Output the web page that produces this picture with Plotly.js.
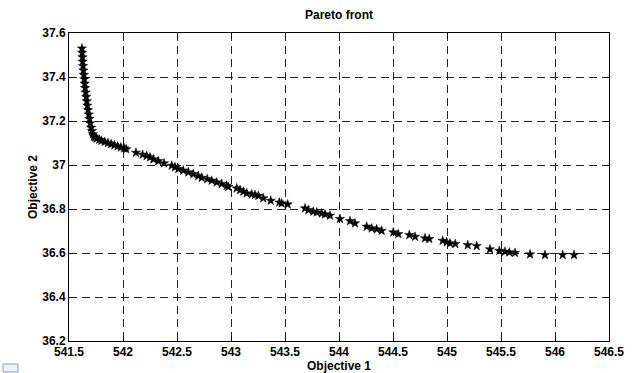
<!DOCTYPE html>
<html>
<head>
<meta charset="utf-8">
<script src="https://cdn.plot.ly/plotly-3.0.1.min.js"></script>
<style>html,body{margin:0;padding:0;background:#fff;}#chart{width:632px;height:373px;}</style>
</head>
<body>
<div id="chart"></div>
<script>
// Objective 1 values of the Pareto-front points
const objective1 = [
  541.620, 541.622, 541.625, 541.627, 541.630, 541.634, 541.638, 541.642, 541.646, 541.650,
  541.655, 541.660, 541.665, 541.671, 541.677, 541.684, 541.690, 541.697, 541.705, 541.713,
  541.722, 541.730, 541.740, 541.755, 541.780, 541.800, 541.830, 541.860, 541.890, 541.920,
  541.950, 541.980, 542.010, 542.030,
  542.120, 542.182, 542.219, 542.250, 542.281, 542.327, 542.380, 542.451, 542.481, 542.512,
  542.558, 542.605, 542.651, 542.697, 542.729, 542.781, 542.821, 542.868, 542.914, 542.960,
  542.975, 543.053, 543.083, 543.114, 543.145, 543.192, 543.222, 543.253, 543.299, 543.368,
  543.447, 543.469, 543.525,
  543.685, 543.716, 543.762, 543.794, 543.840, 543.870, 543.917, 544.009, 544.102, 544.148,
  544.256, 544.303, 544.349, 544.395, 544.503, 544.549, 544.651, 544.704, 544.796, 544.836,
  544.960, 544.997, 545.028, 545.077, 545.192, 545.275, 545.398, 545.484, 545.537, 545.577,
  545.630, 545.769, 545.907, 546.071, 546.176
];
// Objective 2 values of the Pareto-front points
const objective2 = [
  37.530, 37.510, 37.490, 37.470, 37.450, 37.430, 37.410, 37.390, 37.370, 37.350,
  37.330, 37.310, 37.290, 37.270, 37.250, 37.230, 37.210, 37.190, 37.170, 37.155,
  37.140, 37.130, 37.125, 37.120, 37.115, 37.110, 37.105, 37.100, 37.095, 37.090,
  37.085, 37.080, 37.076, 37.072,
  37.056, 37.047, 37.041, 37.035, 37.026, 37.018, 37.008, 36.997, 36.990, 36.982,
  36.975, 36.967, 36.959, 36.950, 36.942, 36.936, 36.929, 36.921, 36.914, 36.906,
  36.901, 36.894, 36.886, 36.879, 36.871, 36.867, 36.864, 36.860, 36.849, 36.838,
  36.830, 36.826, 36.821,
  36.803, 36.795, 36.788, 36.785, 36.780, 36.776, 36.770, 36.755, 36.745, 36.735,
  36.720, 36.712, 36.708, 36.701, 36.694, 36.686, 36.682, 36.674, 36.667, 36.664,
  36.656, 36.649, 36.644, 36.641, 36.636, 36.632, 36.617, 36.610, 36.606, 36.603,
  36.601, 36.594, 36.591, 36.591, 36.591
];
const xTickVals = [541.5, 542, 542.5, 543, 543.5, 544, 544.5, 545, 545.5, 546, 546.5];
const xTickText = ["541.5", "542", "542.5", "543", "543.5", "544", "544.5", "545", "545.5", "546", "546.5"];
const yTickVals = [36.2, 36.4, 36.6, 36.8, 37, 37.2, 37.4, 37.6];
const yTickText = ["36.2", "36.4", "36.6", "36.8", "37", "37.2", "37.4", "37.6"];

const font = {family: "Liberation Sans, Arial, sans-serif", size: 12, color: "#000"};

const trace = {
  x: objective1, y: objective2, type: "scatter", mode: "markers",
  marker: {symbol: "star", size: 7, color: "#000", line: {width: 0.5, color: "#000"}},
  hoverinfo: "none"
};

const axisCommon = {
  showline: true, linecolor: "#000", linewidth: 1, mirror: "ticks",
  ticks: "inside", ticklen: 5, tickcolor: "#000", tickwidth: 1,
  showgrid: true, gridcolor: "#222", gridwidth: 1, griddash: "8px,5px",
  zeroline: false, tickfont: {family: font.family, size: 12, color: "#000", weight: "bold"}
};

const layout = {
  width: 632, height: 373,
  margin: {l: 69, r: 23, t: 33, b: 32, pad: 0},
  paper_bgcolor: "#fff", plot_bgcolor: "#fff",
  showlegend: false,
  title: {text: "<b>Pareto front</b>", font: {family: font.family, size: 12, color: "#000"},
          x: 0.5, xref: "paper", y: 1 - 15 / 373, yanchor: "middle"},
  xaxis: Object.assign({}, axisCommon, {
    range: [541.5, 546.5], tickmode: "array", tickvals: xTickVals, ticktext: xTickText,
    title: {text: "<b>Objective 1</b>", font: {family: font.family, size: 12, color: "#000"}, standoff: 0}
  }),
  yaxis: Object.assign({}, axisCommon, {
    range: [36.2, 37.6], tickmode: "array", tickvals: yTickVals, ticktext: yTickText,
    title: {text: "<b>Objective 2</b>", font: {family: font.family, size: 12, color: "#000"}, standoff: 2}
  }),
  shapes: [
    {type: "rect", xref: "paper", yref: "paper", x0: -66/540, x1: -51/540, y0: -31/308, y1: -23/308,
     line: {color: "#8aa0c0", width: 1}, fillcolor: "#eef2f8"}
  ]
};

Plotly.newPlot("chart", [trace], layout, {displayModeBar: false, staticPlot: true});
</script>
</body>
</html>
